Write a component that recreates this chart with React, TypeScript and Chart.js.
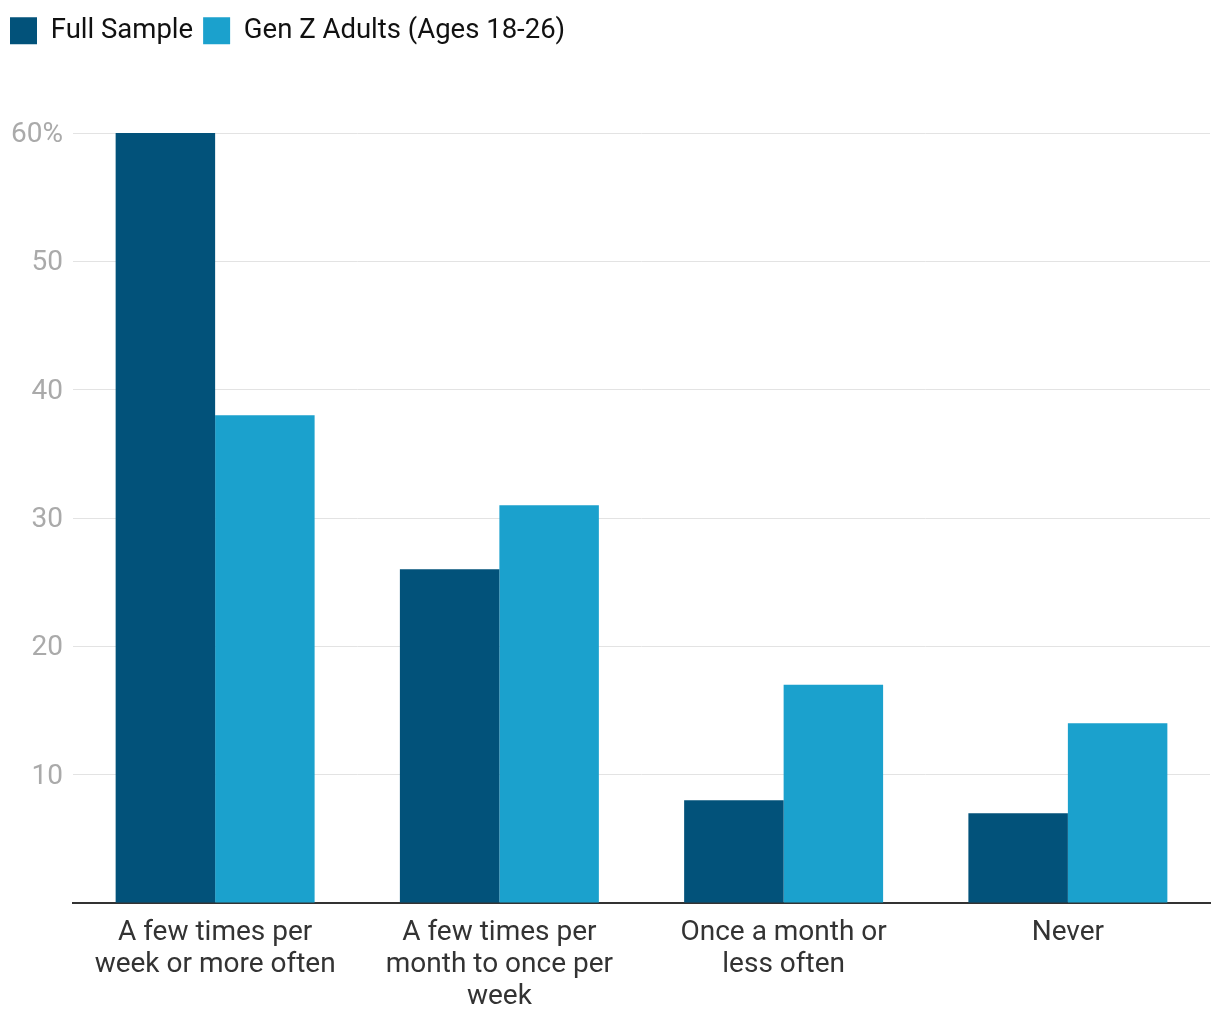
import React, { useEffect, useRef } from "react";
import { Chart, registerables } from "chart.js";

Chart.register(...registerables);

const categories: string[][] = [
  ["A few times per", "week or more often"],
  ["A few times per", "month to once per", "week"],
  ["Once a month or", "less often"],
  ["Never"],
];
const seriesNames = ["Full Sample", "Gen Z Adults (Ages 18-26)"];
const fullSample = [60, 26, 8, 7];
const genZ = [38, 31, 17, 14];
const yTicks = [0, 10, 20, 30, 40, 50, 60];

const DARK = "#02527a";
const LIGHT = "#1ba1cd";
const FONT = "Roboto";

export default function App() {
  const ref = useRef<HTMLCanvasElement | null>(null);

  useEffect(() => {
    if (!ref.current) return;
    const legendHeight = {
      id: "legendHeight",
      beforeLayout(chart: any) {
        const lg = chart.legend;
        if (lg && !lg.__patched) {
          const orig = lg.fit.bind(lg);
          lg.fit = function () {
            orig();
            this.height = 126;
          };
          lg.__patched = true;
        }
      },
    };
    const chart = new Chart(ref.current, {
      type: "bar",
      data: {
        labels: categories,
        datasets: [
          { label: seriesNames[0], data: fullSample, backgroundColor: DARK, borderWidth: 0 },
          { label: seriesNames[1], data: genZ, backgroundColor: LIGHT, borderWidth: 0 },
        ],
      },
      plugins: [legendHeight],
      options: {
        responsive: false,
        animation: false,
        devicePixelRatio: 1,
        layout: { padding: { top: 7, left: 0, right: 10, bottom: 0 } },
        datasets: { bar: { categoryPercentage: 0.7, barPercentage: 1.0 } },
        plugins: {
          tooltip: { enabled: false },
          legend: {
            position: "top",
            align: "start",
            labels: {
              boxWidth: 27,
              boxHeight: 27,
              padding: 10,
              color: "#111111",
              font: { family: FONT, size: 27.5 },
            },
          },
        },
        scales: {
          x: {
            grid: { display: false, drawTicks: false },
            border: { display: true, color: "#333333", width: 2 },
            ticks: {
              color: "#333333",
              font: { family: FONT, size: 28, lineHeight: 1.14 },
              padding: 14,
              maxRotation: 0,
              autoSkip: false,
            },
            afterFit(scale: any) {
              scale.height = 117;
            },
          },
          y: {
            min: 0,
            max: 60,
            afterBuildTicks(scale: any) {
              scale.ticks = yTicks.map((v) => ({ value: v }));
            },
            grid: { color: "#e3e3e3", lineWidth: 1, drawTicks: false },
            border: { display: false },
            ticks: {
              color: "#aaaaaa",
              font: { family: FONT, size: 28 },
              padding: 10,
              labelOffset: 2,
              callback: (v: any) => (v === 0 ? "" : v === 60 ? "60%" : String(v)),
            },
            afterFit(scale: any) {
              scale.width = 73;
            },
          },
        },
      },
    });
    return () => chart.destroy();
  }, []);

  return (
    <div style={{ position: "fixed", left: 0, top: 0, width: 1220, height: 1020, background: "#fff" }}>
      <canvas ref={ref} width={1220} height={1020} style={{ display: "block" }} />
    </div>
  );
}
